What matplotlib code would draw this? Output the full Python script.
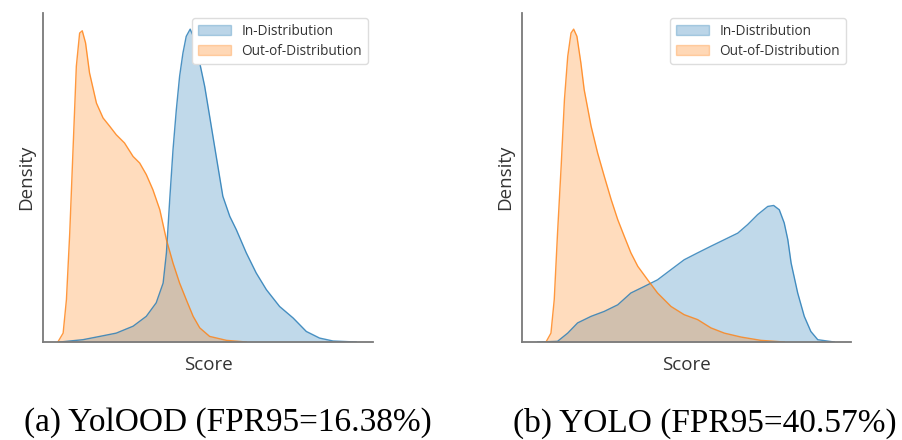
import matplotlib
matplotlib.use("Agg")
import matplotlib.pyplot as plt
from matplotlib.patches import Patch

# ---------------- data ----------------
# Panel (a) YolOOD
a_ood_score = [4.5, 6.1, 7.1, 8.1, 9.1, 10.1, 11.1, 11.9, 12.9, 14.1, 16.2, 18.2, 20.2, 22.2, 24.7,
               27.3, 29.3, 31.3, 33.3, 35.4, 37.4, 39.4, 41.4, 43.4, 45.5, 47.5, 50.5, 55.6, 61.6]
a_ood_density = [0.0, 0.027, 0.129, 0.331, 0.585, 0.838, 0.939, 0.946, 0.909, 0.818, 0.726, 0.681,
                 0.656, 0.630, 0.605, 0.564, 0.544, 0.509, 0.463, 0.402, 0.311, 0.240, 0.179, 0.129,
                 0.078, 0.043, 0.017, 0.005, 0.0]
a_id_score = [5.1, 12.1, 17.2, 22.2, 27.3, 31.3, 34.3, 36.4, 37.4, 38.4, 39.4, 40.4, 41.4, 42.4, 43.4,
              44.6, 46.0, 47.5, 49.0, 50.5, 52.5, 54.5, 56.6, 58.6, 61.6, 64.6, 67.7, 71.7, 75.8,
              79.8, 83.8, 87.9, 94.9]
a_id_density = [0.0, 0.007, 0.017, 0.027, 0.048, 0.078, 0.119, 0.179, 0.271, 0.433, 0.585, 0.706,
                0.808, 0.878, 0.929, 0.951, 0.919, 0.848, 0.777, 0.686, 0.564, 0.443, 0.382, 0.341,
                0.271, 0.210, 0.159, 0.108, 0.073, 0.032, 0.012, 0.003, 0.0]

# Panel (b) YOLO
b_ood_score = [7.3, 8.8, 9.8, 10.8, 11.9, 12.9, 13.9, 14.9, 15.7, 16.7, 17.9, 18.9, 21.0, 23.0, 25.0,
               27.1, 29.1, 31.1, 33.1, 35.2, 38.2, 41.2, 45.3, 49.3, 53.4, 57.4, 61.5, 66.6, 72.6, 79.7]
b_ood_density = [0.0, 0.027, 0.129, 0.331, 0.534, 0.737, 0.868, 0.939, 0.951, 0.929, 0.848, 0.767,
                 0.656, 0.574, 0.504, 0.433, 0.372, 0.321, 0.271, 0.230, 0.189, 0.149, 0.108, 0.083,
                 0.068, 0.043, 0.027, 0.015, 0.005, 0.0]
b_id_score = [4.8, 10.8, 13.9, 16.9, 21.0, 25.0, 29.1, 33.1, 37.2, 41.2, 45.3, 49.3, 53.4, 57.4, 61.5,
              65.6, 68.6, 71.6, 74.7, 76.5, 78.2, 79.7, 80.8, 81.8, 83.8, 85.8, 87.8, 89.9, 94.9]
b_id_density = [0.0, 0.002, 0.027, 0.058, 0.078, 0.093, 0.113, 0.149, 0.169, 0.189, 0.220, 0.250,
                0.271, 0.291, 0.311, 0.331, 0.357, 0.387, 0.412, 0.415, 0.402, 0.362, 0.311, 0.240,
                0.149, 0.078, 0.032, 0.007, 0.0]

legend_labels = ["In-Distribution", "Out-of-Distribution"]
captions = ["(a) YolOOD (FPR95=16.38%)", "(b) YOLO (FPR95=40.57%)"]
x_label = "Score"
y_label = "Density"

BLUE = "#1f77b4"
ORANGE = "#ff7f0e"
SANS = ["Open Sans", "DejaVu Sans"]

fig = plt.figure(figsize=(9.02, 4.4), dpi=100)
W, H = 902, 440

panels = [
    ((43, 13, 373, 342), a_id_score, a_id_density, a_ood_score, a_ood_density, 228),
    ((522, 13, 851, 342), b_id_score, b_id_density, b_ood_score, b_ood_density, 705),
]

for i, (box, ids, idd, oods, oodd, capx) in enumerate(panels):
    x0, y0, x1, y1 = box
    ax = fig.add_axes([x0 / W, 1 - y1 / H, (x1 - x0) / W, (y1 - y0) / H])
    ax.fill_between(ids, idd, color=BLUE, alpha=0.28, lw=0)
    ax.plot(ids, idd, color=BLUE, lw=1.0, alpha=0.8)
    ax.fill_between(oods, oodd, color=ORANGE, alpha=0.27, lw=0)
    ax.plot(oods, oodd, color=ORANGE, lw=1.0, alpha=0.8)
    ax.set_xlim(0, 100)
    ax.set_ylim(0, 1.0)
    ax.set_xticks([])
    ax.set_yticks([])
    for s in ["top", "right"]:
        ax.spines[s].set_visible(False)
    for s in ["left", "bottom"]:
        ax.spines[s].set_color("#7a7a7a")
        ax.spines[s].set_linewidth(1.3)
    ax.set_xlabel(x_label, fontsize=13.5, color="#333333", labelpad=10, family=SANS)
    ax.set_ylabel(y_label, fontsize=13.5, color="#333333", labelpad=6, family=SANS)
    handles = [Patch(facecolor=BLUE, alpha=0.3, edgecolor=BLUE),
               Patch(facecolor=ORANGE, alpha=0.3, edgecolor=ORANGE)]
    ax.legend(handles, legend_labels, loc="upper right", frameon=True, framealpha=1.0,
              edgecolor="#dddddd", borderaxespad=0.4, handlelength=2.4, labelspacing=0.35,
              labelcolor="#333333", prop={"family": SANS, "size": 9.8})
    fig.text(capx / W, 1 - 423 / H, captions[i], ha="center", va="center",
             fontsize=24, family="Liberation Serif", color="black")

fig.savefig("out.png", dpi=100)
